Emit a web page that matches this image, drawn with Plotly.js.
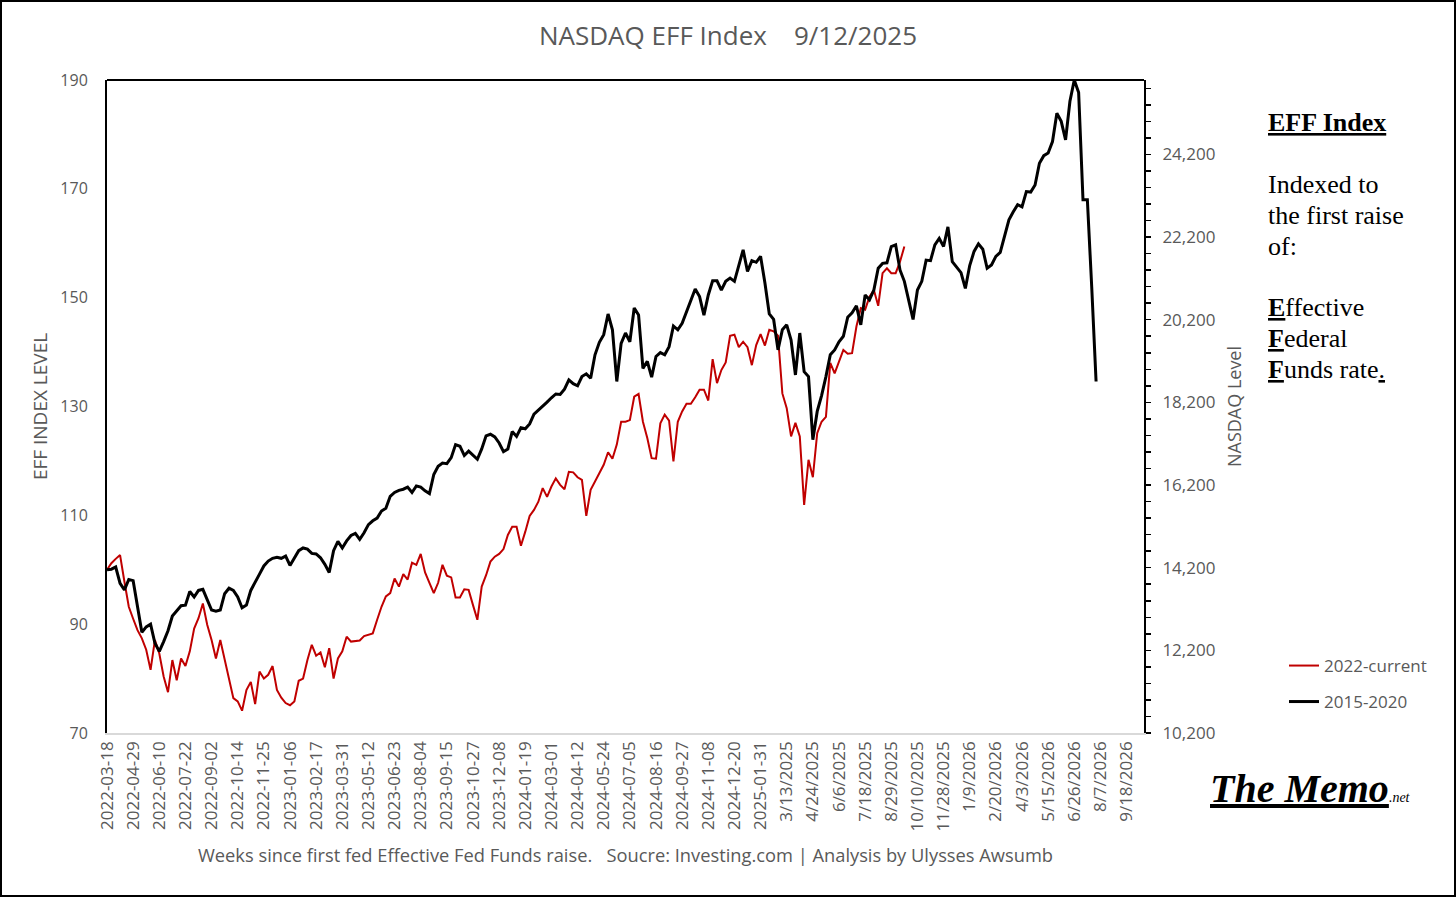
<!DOCTYPE html>
<html>
<head>
<meta charset="utf-8">
<script src="https://cdn.plot.ly/plotly-3.0.1.min.js"></script>
<style>
  html, body { margin: 0; padding: 0; background: #ffffff; }
  #chart { width: 1456px; height: 897px; }
  #frame { position: absolute; left: 0; top: 0; width: 1456px; height: 897px; box-sizing: border-box; border: 2px solid #000; pointer-events: none; }
</style>
</head>
<body>
<div id="chart"></div>
<div id="frame"></div>
<script>
// ---- data ----
const weekLabels = [
  "2022-03-18","2022-04-29","2022-06-10","2022-07-22","2022-09-02","2022-10-14","2022-11-25",
  "2023-01-06","2023-02-17","2023-03-31","2023-05-12","2023-06-23","2023-08-04","2023-09-15",
  "2023-10-27","2023-12-08","2024-01-19","2024-03-01","2024-04-12","2024-05-24","2024-07-05",
  "2024-08-16","2024-09-27","2024-11-08","2024-12-20","2025-01-31","3/13/2025","4/24/2025",
  "6/6/2025","7/18/2025","8/29/2025","10/10/2025","11/28/2025","1/9/2026","2/20/2026",
  "4/3/2026","5/15/2026","6/26/2026","8/7/2026","9/18/2026"
];
const labelEveryWeeks = 6;

const series2022Name = "2022-current";
const series2022 = [
  100.0,101.2,102.0,102.7,97.8,93.2,91.0,88.9,87.4,85.3,
  81.6,87.1,84.6,80.4,77.5,83.4,79.7,83.7,82.3,85.0,
  89.2,91.1,93.8,89.9,87.1,83.7,87.1,83.4,79.7,76.4,
  75.8,74.1,77.9,79.4,75.3,81.3,80.0,80.7,82.3,77.9,
  76.5,75.5,75.1,75.8,79.6,80.0,83.4,86.2,84.2,84.8,
  82.1,85.6,80.0,83.7,85.0,87.7,86.8,86.9,87.0,87.8,
  88.0,88.3,90.8,93.2,95.1,95.7,98.4,96.9,99.2,98.2,
  101.3,100.9,102.9,99.5,97.6,95.7,97.6,100.9,98.9,98.6,
  94.9,94.9,96.4,96.3,93.5,90.8,96.9,99.0,101.5,102.4,
  102.9,103.8,106.4,107.9,107.9,104.4,107.0,109.9,111.0,112.5,
  115.0,113.4,115.3,116.8,115.6,114.8,118.0,117.9,117.0,116.5,
  109.9,114.7,116.2,117.8,119.3,121.6,120.4,123.0,127.2,127.2,
  127.5,131.8,132.3,127.2,124.2,120.5,120.4,126.9,128.5,127.4,
  119.9,127.2,129.1,130.5,130.5,131.7,133.1,133.1,131.1,138.7,
  134.3,136.7,138.1,143.0,143.2,140.9,141.9,140.9,137.6,141.3,
  143.3,141.2,144.1,143.8,143.0,132.4,129.7,124.5,127.0,124.5,
  111.9,120.2,117.0,125.1,127.2,128.1,138.0,136.1,138.3,140.4,
  139.7,139.8,144.7,148.1,147.8,150.2,151.4,148.5,154.5,155.4,
  154.5,154.5,156.6,159.4
];

const series2015Name = "2015-2020";
const series2015 = [
  100.0,100.1,100.5,97.5,96.3,98.2,98.0,93.5,88.5,89.5,
  90.0,86.5,85.0,86.8,88.8,91.5,92.5,93.4,93.5,96.0,
  95.0,96.2,96.4,94.5,92.6,92.4,92.6,95.6,96.6,96.2,
  95.0,93.0,93.5,96.2,97.6,99.2,100.7,101.6,102.1,102.3,
  102.1,102.5,100.8,102.2,103.5,104.0,103.8,103.0,102.9,102.2,
  101.0,99.5,103.5,105.2,104.0,105.3,106.3,106.7,105.6,106.8,
  108.3,109.0,109.5,110.8,111.3,113.5,114.2,114.6,114.8,115.2,
  114.2,115.4,115.2,114.5,114.0,117.5,119.0,119.6,119.5,120.6,
  123.0,122.7,121.0,121.8,121.0,120.3,122.2,124.6,124.9,124.4,
  123.3,121.7,122.2,125.4,124.5,126.1,125.9,126.8,128.6,129.3,
  130.0,130.8,131.6,132.3,132.2,133.2,134.9,134.2,133.8,135.5,
  136.0,135.2,139.5,141.8,143.2,147.0,144.1,134.6,141.6,143.5,
  141.9,148.1,146.8,137.0,138.3,135.4,139.2,139.9,139.5,141.0,
  144.8,144.1,145.3,147.5,149.5,151.6,150.2,146.8,150.5,153.1,
  153.1,151.4,153.0,153.6,153.0,155.7,158.8,154.8,156.8,156.5,
  157.6,152.7,147.0,146.0,140.4,144.1,145.0,142.2,135.8,143.5,
  136.4,135.5,123.9,129.1,132.0,135.5,139.5,140.4,141.9,142.9,
  146.4,147.2,148.5,145.0,150.5,149.6,151.4,155.4,156.3,156.4,
  159.4,159.7,155.1,153.0,149.6,146.0,151.4,153.0,156.9,156.8,
  159.7,160.9,159.4,163.0,156.6,155.7,154.6,151.7,155.9,158.5,
  159.9,158.9,155.4,156.0,157.6,158.3,161.2,164.3,165.8,167.1,
  166.7,169.5,169.4,170.7,174.7,176.1,176.6,178.7,183.9,182.4,
  179.0,186.1,190.0,187.7,168.0,168.0,152.0,134.6
];

// NASDAQ level axis (right): an empty axis scale, no series plotted on it
const nasdaqRange = [10200, 26000];
const nasdaqMajorStep = 2000;
const nasdaqMinorStep = 400;

// ---- chart ----
const grey = "#595959";
const weekIndex = arr => arr.map((_, i) => i);
const tickVals = weekLabels.map((_, i) => i * labelEveryWeeks);

const traces = [
  {
    type: "scatter", mode: "lines", name: series2022Name,
    x: weekIndex(series2022), y: series2022,
    line: { color: "#C00000", width: 2 },
    legend: "legend", hoverinfo: "x+y"
  },
  {
    type: "scatter", mode: "lines", name: series2015Name,
    x: weekIndex(series2015), y: series2015,
    line: { color: "#000000", width: 3 },
    legend: "legend2", hoverinfo: "x+y"
  },
  {
    // empty trace so the secondary (NASDAQ level) axis is drawn
    type: "scatter", mode: "lines", x: [], y: [], yaxis: "y2",
    showlegend: false, hoverinfo: "skip"
  }
];

const W = 1456, H = 897;
const plotL = 107, plotR = 1144, plotT = 80, plotB = 733;
const px2x = px => (px - plotL) / (plotR - plotL);
const px2y = py => (plotB - py) / (plotB - plotT);

const serif = "Liberation Serif, Times New Roman, serif";
const sans = "Open Sans, Lato, sans-serif";

const notes = [
  { t: "<b><u>EFF Index</u></b>", y: 122 },
  { t: "Indexed to", y: 184 },
  { t: "the first raise", y: 215 },
  { t: "of:", y: 246 },
  { t: "<b><u>E</u></b>ffective", y: 307 },
  { t: "<b><u>F</u></b>ederal", y: 338 },
  { t: "<b><u>F</u></b>unds rate<u>.</u>", y: 369 }
];
const annotations = notes.map(n => ({
  text: n.t, xref: "paper", yref: "paper", x: px2x(1266), y: px2y(n.y),
  xanchor: "left", yanchor: "middle", showarrow: false,
  font: { family: serif, size: 26, color: "#000000" }
}));
annotations.push({
  text: "<b><i><u>The Memo</u></i></b><i><span style='font-size:14px'>.net</span></i>",
  xref: "paper", yref: "paper", x: px2x(1208), y: px2y(788),
  xanchor: "left", yanchor: "middle", showarrow: false,
  font: { family: serif, size: 40, color: "#000000" }
});

const layout = {
  width: W, height: H,
  paper_bgcolor: "#ffffff", plot_bgcolor: "#ffffff",
  margin: { l: plotL, r: W - plotR, t: plotT, b: H - plotB, pad: 0 },
  font: { family: sans, color: grey },
  title: {
    text: "NASDAQ EFF Index\u00a0\u00a0\u00a0\u00a09/12/2025",
    xref: "container", x: 0.5, xanchor: "center",
    yref: "container", y: 1 - 36 / H, yanchor: "middle",
    font: { family: sans, size: 26, color: grey }
  },
  showlegend: true,
  legend: {
    x: px2x(1284), y: px2y(666), xanchor: "left", yanchor: "middle",
    bgcolor: "rgba(0,0,0,0)", borderwidth: 0, itemwidth: 30,
    font: { family: sans, size: 17, color: grey }
  },
  legend2: {
    x: px2x(1284), y: px2y(702), xanchor: "left", yanchor: "middle",
    bgcolor: "rgba(0,0,0,0)", borderwidth: 0, itemwidth: 30,
    font: { family: sans, size: 17, color: grey }
  },
  xaxis: {
    range: [0, 238],
    tickmode: "array", tickvals: tickVals, ticktext: weekLabels,
    tickangle: -90, tickfont: { family: sans, size: 17, color: grey },
    ticks: "", showgrid: false, zeroline: false,
    showline: true, linecolor: "#d9d9d9", linewidth: 1.5,
    title: {
      text: "Weeks since first fed Effective Fed Funds raise.\u00a0\u00a0\u00a0Soucre: Investing.com | Analysis by Ulysses Awsumb",
      font: { family: sans, size: 18.3, color: grey }, standoff: 18
    }
  },
  yaxis: {
    range: [70, 190], tick0: 70, dtick: 20,
    tickfont: { family: sans, size: 16, color: grey },
    ticks: "", ticklabelstandoff: 14,
    showgrid: false, zeroline: false,
    showline: true, linecolor: "#000000", linewidth: 2,
    title: { text: "EFF INDEX LEVEL", font: { family: sans, size: 19, color: grey }, standoff: 8 }
  },
  yaxis2: {
    overlaying: "y", side: "right", anchor: "x",
    range: nasdaqRange, tick0: nasdaqRange[0], dtick: nasdaqMajorStep, tickformat: ",d",
    tickfont: { family: sans, size: 17, color: grey },
    ticks: "outside", ticklen: 5, tickwidth: 1.5, tickcolor: "#000000",
    ticklabelstandoff: 8,
    minor: { tick0: nasdaqRange[0], dtick: nasdaqMinorStep, ticks: "outside", ticklen: 5, tickwidth: 1.5, tickcolor: "#000000", showgrid: false },
    showgrid: false, zeroline: false,
    showline: true, linecolor: "#000000", linewidth: 2,
    title: { text: "NASDAQ Level", font: { family: sans, size: 18, color: grey }, standoff: 14 }
  },
  shapes: [
    { type: "line", xref: "paper", yref: "paper", x0: 0, x1: 1, y0: 1, y1: 1,
      line: { color: "#000000", width: 2 } }
  ],
  annotations: annotations
};

Plotly.newPlot("chart", traces, layout, { displayModeBar: false, staticPlot: true });
</script>
</body>
</html>
